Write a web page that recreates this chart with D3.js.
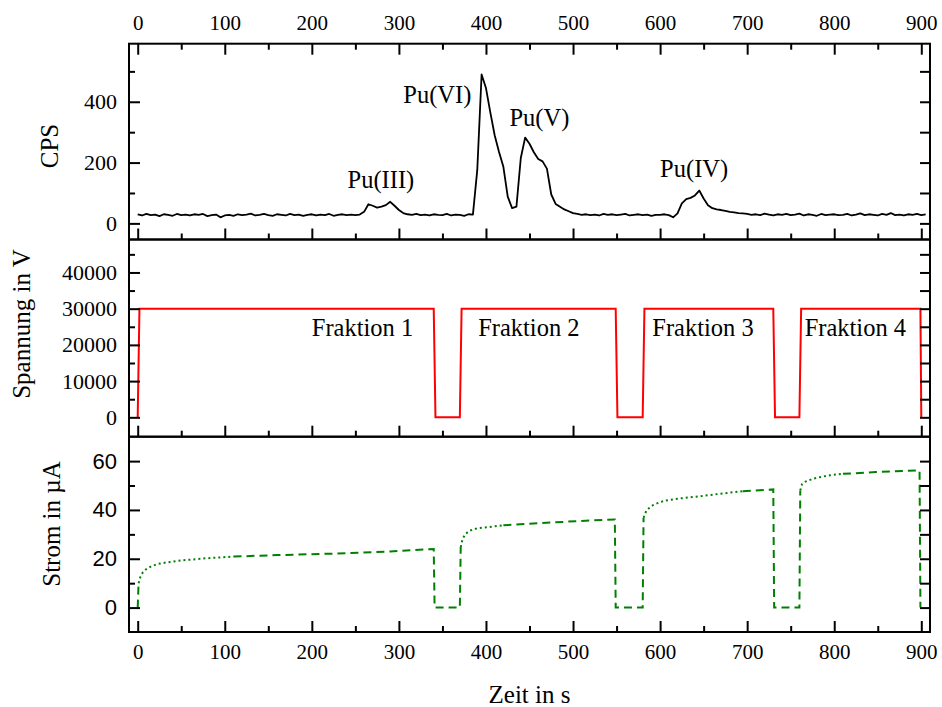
<!DOCTYPE html>
<html>
<head>
<meta charset="utf-8">
<script src="https://cdn.jsdelivr.net/npm/d3@7"></script>
<style>
  body { margin: 0; background: #fff; }
  svg text { font-family: "Liberation Serif", "Times New Roman", serif; fill: #000; }
</style>
</head>
<body>
<svg id="chart" width="942" height="707"></svg>
<script>
// time axis ticks (seconds)
const timeMajor = [0, 100, 200, 300, 400, 500, 600, 700, 800, 900];
const timeMinor = [50, 150, 250, 350, 450, 550, 650, 750, 850];

// CPS trace, one value every 5 s
const cpsTime = d3.range(0, 906, 5);
const cpsValues = [
  30, 26, 31, 27, 29, 24, 30, 28, 25, 31,
  27, 29, 26, 30, 28, 31, 24, 27, 29, 20,
  26, 28, 25, 30, 27, 29, 32, 26, 28, 31,
  27, 25, 30, 28, 26, 31, 27, 29, 25, 28,
  30, 26, 29, 27, 31, 25, 28, 30, 27, 29,
  27, 29, 38, 63, 58, 52, 55, 60, 71, 58,
  44, 34, 30, 28, 31, 27, 29, 26, 30, 28,
  27, 31, 26, 29, 28, 25, 30, 29, 175, 490,
  445, 365, 290, 235, 186, 88, 50, 55, 215, 282,
  262, 234, 212, 204, 180, 95, 64, 55, 46, 40,
  34, 31, 28, 30, 27, 29, 26, 31, 28, 30,
  27, 29, 31, 26, 28, 30, 27, 29, 25, 28,
  28, 30, 27, 20, 33, 66, 80, 84, 92, 108,
  82, 60, 50, 46, 44, 41, 38, 36, 34, 33,
  31, 28, 30, 27, 32, 29, 26, 30, 28, 31,
  27, 29, 32, 26, 30, 28, 25, 31, 27, 29,
  30, 27, 28, 31, 26, 29, 33, 27, 30, 28,
  26, 31, 28, 34, 27, 29, 26, 30, 28, 31,
  27, 30
];
const cpsMajor = [0, 200, 400];
const cpsMinor = [100, 300, 500];

const peakNames = ["Pu(III)", "Pu(VI)", "Pu(V)", "Pu(IV)"];
const peakTime = [241, 305, 427, 600];
const peakCps = [116, 396, 320, 152];

// voltage
const voltTime = [0, 2, 340, 342, 370, 372, 549, 551, 580, 582, 730, 732, 760, 762, 899, 900];
const voltValues = [0, 30000, 30000, 0, 0, 30000, 30000, 0, 0, 30000, 30000, 0, 0, 30000, 30000, 0];
const voltMajor = [0, 10000, 20000, 30000, 40000];
const voltMinor = [5000, 15000, 25000, 35000, 45000];

const fracNames = ["Fraktion 1", "Fraktion 2", "Fraktion 3", "Fraktion 4"];
const fracTime = [200, 391, 591, 766];
const fracVolt = [22400, 22400, 22400, 22400];

// current
const currTime = [0, 1, 3, 6, 10, 15, 22, 33, 50, 75, 110, 160, 225, 290, 340, 341, 370, 371, 373, 376,
  381, 390, 408, 420, 503, 548, 549, 580, 581, 584, 588, 592, 600, 607, 620, 638, 695, 730, 731, 760,
  761, 763, 767, 775, 783, 795, 810, 848, 898, 899];
const currValues = [0, 10, 12.5, 14.5, 15.8, 16.8, 17.8, 18.5, 19.3, 20.1, 20.9, 21.5, 22.1, 23, 24, 0, 0, 24.8, 28, 30,
  31.5, 32.5, 33.2, 33.7, 35.4, 36.1, 0, 0, 36.8, 39.5, 41, 42, 43.2, 43.9, 44.6, 45.3, 47.7, 48.4, 0, 0,
  48, 50.5, 51.6, 52.7, 53.4, 54.2, 54.8, 55.5, 56.2, 0];
const currMajor = [0, 20, 40, 60];
const currMinor = [10, 30, 50];

const svg = d3.select("#chart");
const left = 129, right = 930;

const x = d3.scaleLinear().domain([-10, 910]).range([left, right]);
const yCps = d3.scaleLinear().domain([-53, 591]).range([239.5, 43.7]);
const yVolt = d3.scaleLinear().domain([-5350, 49100]).range([436.7, 239.5]);
const yCurr = d3.scaleLinear().domain([-10, 70]).range([632, 436.7]);

// draw one set of inward ticks (major or minor) with optional labels
function ticks(axisGen, scale, values, size, translate, labelOpts) {
  const g = svg.append("g").attr("transform", translate);
  const ax = axisGen(scale).tickValues(values).tickSize(-size);
  if (labelOpts) ax.tickPadding(labelOpts.pad).tickFormat(d3.format("d"));
  else ax.tickFormat("");
  g.call(ax);
  g.select(".domain").remove();
  g.selectAll("line").attr("stroke", "#000").attr("stroke-width", 2);
  g.attr("font-size", null).attr("font-family", null);
  g.selectAll("text")
    .style("font-size", labelOpts ? labelOpts.size + "px" : null)
    .style("font-family", labelOpts && labelOpts.sans ? '"Liberation Sans", Arial, sans-serif' : null);
  return g;
}

function frameAxes(yScale, yMajor, yMinor, top, bottom, opts) {
  ticks(d3.axisLeft, yScale, yMajor, 11, `translate(${left},0)`, { pad: 12, size: 22, sans: opts.sans });
  ticks(d3.axisLeft, yScale, yMinor, 6, `translate(${left},0)`);
  ticks(d3.axisRight, yScale, yMajor, 10, `translate(${right},0)`);
  ticks(d3.axisRight, yScale, yMinor, 10, `translate(${right},0)`);
  ticks(d3.axisBottom, x, timeMajor, 11, `translate(0,${bottom})`, opts.bottomLabels ? { pad: 12, size: 21 } : null);
  ticks(d3.axisBottom, x, timeMinor, 6, `translate(0,${bottom})`);
  if (opts.topTicks) {
    ticks(d3.axisTop, x, timeMajor, 11, `translate(0,${top})`, { pad: 14, size: 21 });
    ticks(d3.axisTop, x, timeMinor, 6, `translate(0,${top})`);
  }
  svg.append("rect")
    .attr("x", left).attr("y", top)
    .attr("width", right - left).attr("height", bottom - top)
    .attr("fill", "none").attr("stroke", "#000").attr("stroke-width", 2);
}

// ---- top panel: CPS
const cpsLine = d3.line().x((d, i) => x(cpsTime[i])).y(d => yCps(d));
svg.append("path")
  .datum(cpsValues)
  .attr("d", cpsLine)
  .attr("fill", "none")
  .attr("stroke", "#000")
  .attr("stroke-width", 1.8)
  .attr("stroke-linejoin", "round");

svg.selectAll(".peak")
  .data(peakNames)
  .join("text")
  .attr("class", "peak")
  .attr("x", (d, i) => x(peakTime[i]))
  .attr("y", (d, i) => yCps(peakCps[i]))
  .style("font-size", "24.5px")
  .text(d => d);

frameAxes(yCps, cpsMajor, cpsMinor, 43.7, 239.5, { topTicks: true });

// ---- middle panel: voltage
const voltLine = d3.line().x((d, i) => x(voltTime[i])).y(d => yVolt(d));
svg.append("path")
  .datum(voltValues)
  .attr("d", voltLine)
  .attr("fill", "none")
  .attr("stroke", "#ff0000")
  .attr("stroke-width", 2);

svg.selectAll(".frac")
  .data(fracNames)
  .join("text")
  .attr("class", "frac")
  .attr("x", (d, i) => x(fracTime[i]))
  .attr("y", (d, i) => yVolt(fracVolt[i]))
  .style("font-size", "24.5px")
  .text(d => d);

frameAxes(yVolt, voltMajor, voltMinor, 239.5, 436.7, {});

// ---- bottom panel: current (dotted where the curve bends, dashed elsewhere)
const currPts = currTime.map((t, i) => [x(t), yCurr(currValues[i])]);
const pieces = [];
for (let i = 1; i < currPts.length; i++) {
  const dx = currPts[i][0] - currPts[i - 1][0];
  const dy = Math.abs(currPts[i][1] - currPts[i - 1][1]);
  const s = dy / dx;
  const kind = (s > 0.06 && s < 20) ? "dot" : "dash";
  const last = pieces[pieces.length - 1];
  if (last && last.kind === kind) last.pts.push(currPts[i]);
  else pieces.push({ kind, pts: [currPts[i - 1], currPts[i]] });
}
svg.selectAll(".curr")
  .data(pieces)
  .join("path")
  .attr("class", "curr")
  .attr("d", d => d3.line()(d.pts))
  .attr("fill", "none")
  .attr("stroke", "#008000")
  .attr("stroke-width", 2)
  .attr("stroke-dasharray", d => d.kind === "dot" ? "2,3" : "8,5");

frameAxes(yCurr, currMajor, currMinor, 436.7, 632, { bottomLabels: true, sans: true });

// ---- axis titles
function yTitle(txt, cx, cy) {
  svg.append("text")
    .attr("transform", `translate(${cx},${cy}) rotate(-90)`)
    .attr("text-anchor", "middle")
    .style("font-size", "25px")
    .text(txt);
}
yTitle("CPS", 58, 146);
yTitle("Spannung in V", 30, 324);
yTitle("Strom in µA", 60, 524);

svg.append("text")
  .attr("x", (left + right) / 2)
  .attr("y", 703)
  .attr("text-anchor", "middle")
  .style("font-size", "25px")
  .text("Zeit in s");
</script>
</body>
</html>
